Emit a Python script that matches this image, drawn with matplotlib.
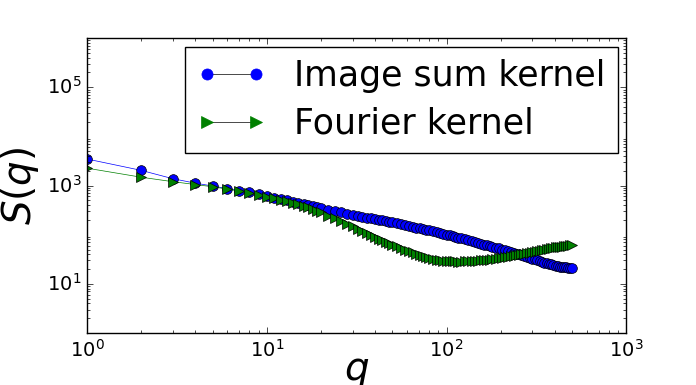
import matplotlib
matplotlib.use("Agg")
import matplotlib.pyplot as plt

plt.style.use('classic')
plt.rcParams['mathtext.fontset'] = 'dejavusans'

# q values and S(q)
q = [1, 2, 3, 4, 5, 6, 7, 8, 9, 10, 11, 12, 13, 14, 15, 16, 17, 18, 19, 20,
     22, 24, 26, 28, 30, 32, 34, 36, 38, 40, 42, 44, 46, 48, 50,
     53, 56, 59, 62, 65, 68, 71, 74, 77, 80,
     84, 88, 92, 96, 100, 104, 108, 112, 116, 120,
     126, 132, 138, 144, 150, 156, 162, 168, 174, 180,
     188, 196, 204, 212, 220, 228, 236, 244, 252, 260,
     270, 280, 290, 300, 310, 320, 330, 340, 350, 360, 370, 380,
     392, 404, 416, 428, 440, 452, 464, 476, 488, 500]

s_image_sum = [3470, 2040, 1380, 1120, 980, 870, 790, 725, 660, 600,
               560, 525, 500, 470, 440, 420, 400, 385, 368, 350,
               325, 302, 285, 270, 255, 243, 232, 224, 214, 207, 200, 195, 188, 184, 178,
               170, 162, 155, 150, 145, 140, 135, 130, 126, 123,
               117, 113, 110, 105, 101, 98, 93, 90, 87, 84,
               80, 77, 73, 70, 68, 65, 63, 61, 59, 57,
               54, 52.5, 50, 48.4, 46.2, 44.7, 43.1, 41.2, 39.8, 38.5,
               37.1, 35.5, 34.3, 32.7, 31.6, 30.2, 29.2, 28.2, 27.2, 26.3, 25.4, 24.8,
               24.0, 23.4, 22.9, 22.4, 22.1, 21.9, 21.6, 21.4, 21.3, 21.2]

s_fourier = [2260, 1480, 1200, 1050, 945, 850, 775, 710, 645, 595,
             555, 520, 485, 450, 415, 390, 360, 330, 305, 285,
             245, 214, 188, 166, 148, 132, 119, 107, 98, 90, 83, 77, 72, 67, 63,
             58, 54, 50, 47, 44, 41, 38.5, 36.3, 34.7, 33.1,
             32.0, 30.9, 30.2, 29.5, 29.2, 28.8, 28.7, 28.6, 28.5, 28.5,
             28.6, 28.7, 28.8, 29.2, 29.5, 29.9, 30.2, 30.5, 30.9, 31.6,
             32.4, 33.1, 33.9, 34.7, 35.5, 36.3, 37.2, 38.0, 38.9, 39.8,
             40.7, 41.7, 42.7, 43.7, 44.7, 45.7, 46.8, 47.9, 49.0, 50.1, 51.3, 52.5,
             53.7, 55.0, 56.2, 56.9, 57.5, 58.9, 59.6, 60.3, 61.0, 61.7]

y_ticks = [1e1, 1e3, 1e5]

fig = plt.figure(figsize=(6.96, 3.85), dpi=100, facecolor='white')
ax = fig.add_axes([0.125, 0.135, 0.775, 0.766])

ax.loglog(q, s_image_sum, 'b-o', lw=0.5, ms=7, mew=0.5, mec='k',
          label='Image sum kernel')
ax.loglog(q, s_fourier, 'g->', lw=0.5, ms=7, mew=0.5, mec='k',
          label='Fourier kernel')

ax.set_xlim(1, 1000)
ax.set_ylim(1, 1e6)
ax.set_yticks(y_ticks)
ax.set_xlabel('$q$', fontsize=28)
ax.set_ylabel('$S(q)$', fontsize=28)
ax.xaxis.set_label_coords(0.5, -0.065)
ax.yaxis.set_label_coords(-0.085, 0.5)
ax.tick_params(labelsize=14)
ax.tick_params(axis='y', pad=4)

leg = ax.legend(loc='upper right', fontsize=25, numpoints=2,
                handlelength=2.0, borderaxespad=0.25, labelspacing=0.4,
                borderpad=0.35)
for ln, c in zip(leg.get_lines(), ['b', 'g']):
    ln.set_color('k')
    ln.set_markerfacecolor(c)
    ln.set_markeredgecolor(c)
    ln.set_markersize(8)

fig.savefig('out.png', dpi=100, facecolor='white')
